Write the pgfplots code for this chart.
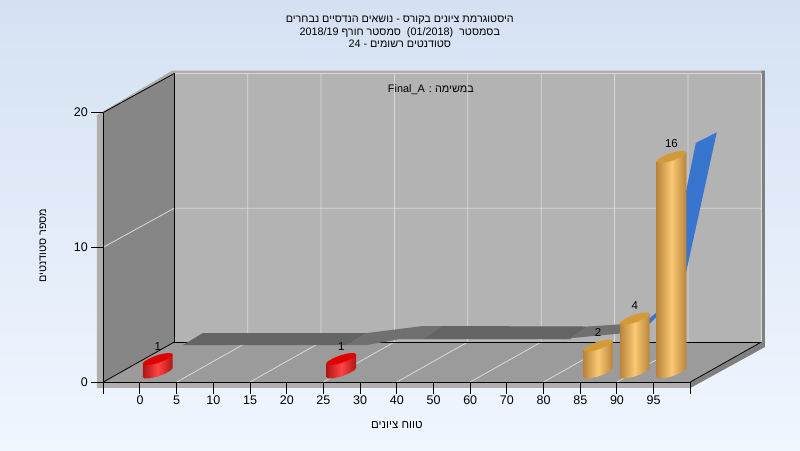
\documentclass[border=0pt]{standalone}
\usepackage{fontspec}
\usepackage{pgfplots}
\usepackage{pgfplotstable}
\pgfplotsset{compat=1.18}
\TeXXeTstate=1
\setmainfont{Liberation Sans}
\newfontfamily\heb[Script=Hebrew]{Liberation Sans}

\definecolor{bgtop}{HTML}{D5E1F2}
\definecolor{bgbot}{HTML}{F0F6FF}
\definecolor{backw}{HTML}{B3B3B3}
\definecolor{leftw}{HTML}{868686}
\definecolor{floorw}{HTML}{9B9B9B}
\definecolor{rimlight}{HTML}{AEAEAE}
\definecolor{rimdark}{HTML}{808080}
\definecolor{gridc}{HTML}{D9D9D9}
\definecolor{ribdark}{HTML}{646464}
\definecolor{riblight}{HTML}{707070}
\definecolor{ribblue}{HTML}{3875CE}
\definecolor{oredge}{HTML}{B9843A}
\definecolor{ormid}{HTML}{FBC875}
\definecolor{orcap}{HTML}{D49A3A}
\definecolor{rededge}{HTML}{B01414}
\definecolor{redmid}{HTML}{FF4444}
\definecolor{redcap}{HTML}{E00000}

% bars: category position, students
\pgfplotstableread{
x val
1 1
6 1
13 2
14 4
15 16
}\bars

% cylinder outline in pixels, h=1 follows the bar top
\pgfplotstableread{
u v h
-14.9 -4.5 1
-14.9 -4.5 0
-13 -6 0
-7.5 -5.7 0
0 -4 0
7.5 -1 0
13 2.2 0
14.9 4.5 0
14.9 4.5 1
}\cylbody
\pgfplotstableread{
u v
14.9 4.5
13 6
7.5 5.7
0 4
-7.5 1
-13 -2.2
-14.9 -4.5
-13 -6
-7.5 -5.7
0 -4
7.5 -1
13 2.2
}\cylcap

\newcommand{\cyl}[5]{%
  \addplot[draw=none,left color=#3,right color=#3,middle color=#4]
    table[x expr=\thisrow{u}/36.69+#1+0.485,y expr=\thisrow{v}/13.475+\thisrow{h}*#2+0.705] {\cylbody};
  \addplot[draw=none,fill=#5,smooth,tension=0.6]
    table[x expr=\thisrow{u}/36.69+#1+0.485,y expr=\thisrow{v}/13.475+#2+0.705] {\cylcap};
}

\begin{document}
\begin{tikzpicture}
\begin{axis}[
  width=587pt, height=269.5pt, scale only axis,
  xmin=0, xmax=16, ymin=0, ymax=20,
  clip=false, axis on top,
  axis lines=left, axis line style={-,black,line width=1pt},
  xtick={0,...,16},
  xticklabels={,0,5,10,15,20,25,30,40,50,60,70,80,85,90,95,},
  ytick={0,10,20},
  tick align=outside, major tick length=12pt,
  tick style={black,line width=1pt},
  /pgf/number format/assume math mode=true,
  tick label style={font=\fontsize{12.5}{14}\selectfont},
  x tick label style={yshift=1.5pt},
  xlabel={\heb\beginR טווח ציונים\endR},
  ylabel={\heb\beginR מספר סטודנטים\endR},
  xlabel style={font=\fontsize{11.5}{13}\selectfont,at={(axis description cs:0.5,-0.16)},anchor=center},
  ylabel style={font=\fontsize{10.8}{13}\selectfont,at={(axis description cs:-0.1027,0.505)},anchor=center},
]
% page background
\addplot[draw=none,top color=bgtop,bottom color=bgbot]
  coordinates {(-2.8155,-5.046)(18.9885,-5.046)(18.9885,28.349)(-2.8155,28.349)};

% rims of the box
\addplot[draw=none,fill=rimlight]
  coordinates {(-0.172,-0.445)(-0.172,19.81)(1.872,23.1)(18.034,23.1)(18.034,22.9)(1.935,22.9)(0,20)(0,-0.445)};
\addplot[draw=none,fill=rimlight]
  coordinates {(-0.172,-0.445)(16,-0.445)(16,0)(-0.172,0)};
\addplot[draw=none,fill=rimdark]
  coordinates {(16,-0.445)(18.034,2.6)(18.034,23.1)(17.935,23.1)(17.935,2.968)(16,0)};

% walls
\addplot[draw=none,fill=backw]
  coordinates {(1.935,2.968)(17.935,2.968)(17.935,22.9)(1.935,22.9)};
\addplot[draw=none,fill=leftw]
  coordinates {(0,0)(1.935,2.968)(1.935,22.9)(0,20)};
\addplot[draw=none,fill=floorw]
  coordinates {(0,0)(16,0)(17.935,2.968)(1.935,2.968)};

% grid
\addplot[gridc,line width=0.8pt,unbounded coords=jump] coordinates {
  (3.935,2.968)(3.935,22.9)(nan,nan)
  (5.935,2.968)(5.935,22.9)(nan,nan)
  (7.935,2.968)(7.935,22.9)(nan,nan)
  (9.935,2.968)(9.935,22.9)(nan,nan)
  (11.935,2.968)(11.935,22.9)(nan,nan)
  (13.935,2.968)(13.935,22.9)(nan,nan)
  (15.935,2.968)(15.935,22.9)(nan,nan)
  (17.935,2.968)(17.935,22.9)(nan,nan)
  (0,10)(1.935,12.9)(17.935,12.9)(nan,nan)
  (1.935,22.9)(17.935,22.9)(nan,nan)
  (2,0)(3.935,2.968)(nan,nan)
  (4,0)(5.935,2.968)(nan,nan)
  (6,0)(7.935,2.968)(nan,nan)
  (8,0)(9.935,2.968)(nan,nan)
  (10,0)(11.935,2.968)(nan,nan)
  (12,0)(13.935,2.968)(nan,nan)
  (14,0)(15.935,2.968)
};

% black box edges
\addplot[black,line width=1pt] coordinates {(1.935,22.9)(1.935,2.968)(17.935,2.968)};
\addplot[black,line width=0.8pt] coordinates {(0,0)(1.935,2.968)};
\addplot[black,line width=0.8pt] coordinates {(0,20)(1.935,22.9)};
\addplot[black,line width=0.8pt] coordinates {(16,0)(17.935,2.968)};

% ribbon series at the back
\addplot[draw=none,fill=ribdark]
  coordinates {(2.172,2.746)(2.717,3.636)(7.187,3.636)(6.642,2.746)};
\addplot[draw=none,fill=riblight]
  coordinates {(6.642,2.746)(7.187,2.746)(8.087,3.191)(8.713,3.191)(9.231,4.156)(8.713,4.156)(7.187,3.636)};
\addplot[draw=none,fill=ribdark]
  coordinates {(8.713,3.191)(9.231,4.156)(13.21,4.119)(12.72,3.191)};
\addplot[draw=none,fill=riblight]
  coordinates {(12.50,3.191)(12.72,3.191)(13.21,4.119)(14.22,4.304)(14.22,3.636)};
\addplot[draw=none,fill=ribblue]
  coordinates {(14.63,4.007)(14.90,4.356)(15.06,4.787)(15.72,6.456)(15.88,8.089)(16.72,18.53)
               (16.15,17.74)(15.88,14.12)(15.45,8.31)(15.06,5.121)(14.90,4.750)(14.63,4.453)};

% bars
\cyl{1}{1}{rededge}{redmid}{redcap}
\cyl{6}{1}{rededge}{redmid}{redcap}
\cyl{13}{2}{oredge}{ormid}{orcap}
\cyl{14}{4}{oredge}{ormid}{orcap}
\cyl{15}{16}{oredge}{ormid}{orcap}
\addplot[draw=none,point meta=y,nodes near coords,
  every node near coord/.append style={font=\fontsize{11.5}{13}\selectfont,anchor=center,xshift=17.8pt,yshift=22.5pt}]
  table[x=x,y=val] {\bars};

% titles
\node[font=\heb\fontsize{10.8}{12.6}\selectfont,align=center] at (axis cs:8.08,25.97) {%
  \beginR היסטוגרמת ציונים בקורס - נושאים הנדסיים נבחרים\endR\\
  \beginR בסמסטר~~\beginL(01/2018)\endL~~סמסטר חורף \beginL 2018/19\endL\endR\\
  \beginR סטודנטים רשומים - \beginL 24\endL\endR};
\node[font=\heb\fontsize{10.9}{13}\selectfont] at (axis cs:8.93,21.68) {\beginR במשימה : \beginL Final\_A\endL\endR};
\end{axis}
\end{tikzpicture}
\end{document}
